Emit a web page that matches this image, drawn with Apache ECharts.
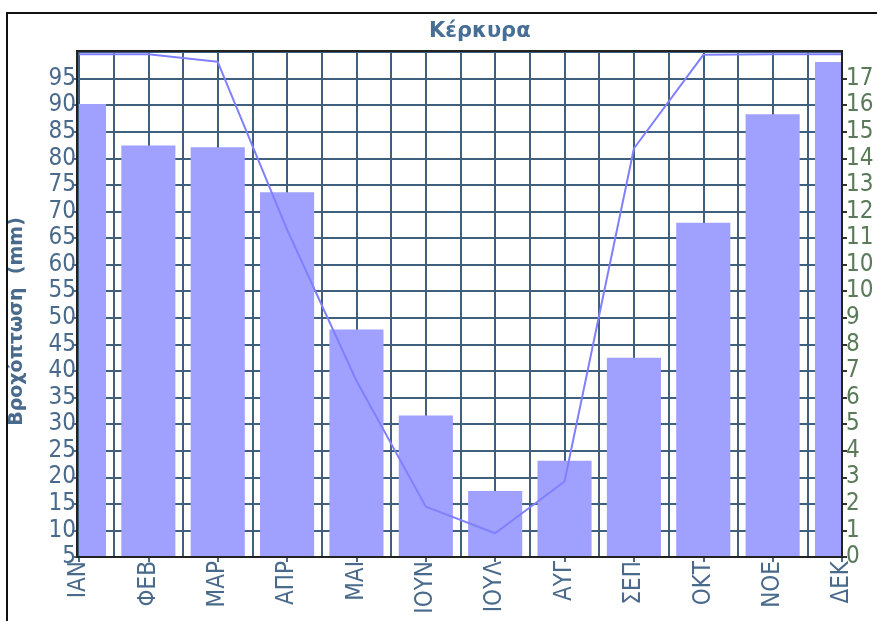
<!DOCTYPE html>
<html>
<head>
<meta charset="utf-8">
<script src="https://cdn.jsdelivr.net/npm/echarts@6/dist/echarts.min.js"></script>
<style>
  html, body { margin: 0; padding: 0; background: #fff; }
  #chart { width: 877px; height: 621px; }
</style>
</head>
<body>
<div id="chart"></div>
<script>
// data
const months = ['ΙΑΝ', 'ΦΕΒ', 'ΜΑΡ', 'ΑΠΡ', 'ΜΑΙ', 'ΙΟΥΝ', 'ΙΟΥΛ', 'ΑΥΓ', 'ΣΕΠ', 'ΟΚΤ', 'ΝΟΕ', 'ΔΕΚ'];
const rainfall = [90.2, 82.4, 82.1, 73.6, 47.8, 31.6, 17.4, 23.1, 42.5, 67.9, 88.3, 98.1];
const lineValues = [17.97, 17.97, 17.7, 11.7, 6.3, 1.8, 0.85, 2.7, 14.6, 17.95, 17.97, 17.97];
const rightTickLabels = ['0', '1', '2', '3', '4', '5', '6', '7', '8', '9', '10', '10', '11', '12', '13', '14', '15', '16', '17'];

const gLeft = 77, gTop = 52, gWidth = 765, gHeight = 505;
const leftMin = 5;
const gridColor = '#3f5f7f';
const blueText = '#4a6a8c';
const greenText = '#5a7a5a';
const labelFont = '"Liberation Sans Narrow", "DejaVu Sans Condensed", sans-serif';

const chart = echarts.init(document.getElementById('chart'));

// bars are centred on the category ticks, so the end ones must be cut at the grid edge
function renderBar(params, api) {
  const top = api.coord([api.value(0), api.value(1)]);
  const base = api.coord([api.value(0), leftMin]);
  const w = api.size([1, 0])[0] * 0.78;
  const cs = params.coordSys;
  const rect = echarts.graphic.clipRectByRect(
    { x: top[0] - w / 2, y: top[1], width: w, height: base[1] - top[1] },
    { x: cs.x, y: cs.y, width: cs.width, height: cs.height }
  );
  if (!rect) return null;
  return { type: 'rect', shape: rect, style: { fill: '#a0a0ff' } };
}

chart.setOption({
  animation: false,
  title: {
    text: 'Κέρκυρα',
    left: 424,
    top: 16,
    textStyle: { color: '#476e94', fontSize: 21, fontWeight: 'bold', fontFamily: 'DejaVu Sans' }
  },
  grid: { left: gLeft, top: gTop, width: gWidth, height: gHeight },
  xAxis: [
    {
      type: 'category',
      data: months,
      boundaryGap: false,
      axisLine: { show: false },
      axisTick: { show: true, length: 5, lineStyle: { color: blueText, width: 2 } },
      axisLabel: { rotate: 90, margin: 4, color: blueText, fontSize: 24, fontFamily: labelFont },
      splitLine: { show: false }
    },
    {
      type: 'value',
      min: 0, max: 22, interval: 1,
      position: 'bottom',
      axisLine: { show: false },
      axisTick: { show: false },
      axisLabel: { show: false },
      splitLine: { show: true, lineStyle: { color: gridColor, width: 2 } }
    }
  ],
  yAxis: [
    {
      type: 'value',
      min: leftMin, max: 100, interval: 5,
      name: 'Βροχόπτωση  (mm)',
      nameLocation: 'middle',
      nameGap: 52,
      nameTextStyle: {
        color: blueText, fontSize: 19, fontWeight: 'bold', fontFamily: 'DejaVu Sans',
        padding: [0, 34, 0, 0]
      },
      axisLine: { show: false },
      axisTick: { show: true, length: 7, lineStyle: { color: blueText, width: 2 } },
      axisLabel: { margin: 3, color: blueText, fontSize: 24, fontFamily: labelFont, showMaxLabel: false },
      splitLine: { show: true, lineStyle: { color: gridColor, width: 2 } }
    },
    {
      type: 'value',
      min: 0, max: 18.05, interval: 0.95,
      position: 'right',
      axisLine: { show: false },
      axisTick: { show: true, length: 5, lineStyle: { color: '#333', width: 2 } },
      axisLabel: {
        margin: 4, color: greenText, fontSize: 24, fontFamily: labelFont, showMaxLabel: false,
        formatter: v => rightTickLabels[Math.round(v / 0.95)] || ''
      },
      splitLine: { show: false }
    }
  ],
  series: [
    {
      type: 'custom',
      renderItem: renderBar,
      data: rainfall.map((v, i) => [i, v]),
      encode: { x: 0, y: 1 },
      xAxisIndex: 0,
      yAxisIndex: 0,
      z: 2
    },
    {
      type: 'line',
      data: lineValues,
      xAxisIndex: 0,
      yAxisIndex: 1,
      showSymbol: false,
      clip: true,
      lineStyle: { color: '#8080ff', width: 2 },
      z: 3
    }
  ],
  graphic: [
    {
      type: 'rect', silent: true, z: 100,
      shape: { x: gLeft, y: gTop - 1, width: gWidth, height: gHeight + 1 },
      style: { fill: 'none', stroke: '#222', lineWidth: 2 }
    },
    {
      type: 'rect', silent: true, z: 100,
      shape: { x: 7, y: 13, width: 1000, height: 800 },
      style: { fill: 'none', stroke: '#111', lineWidth: 2 }
    }
  ]
});
</script>
</body>
</html>
